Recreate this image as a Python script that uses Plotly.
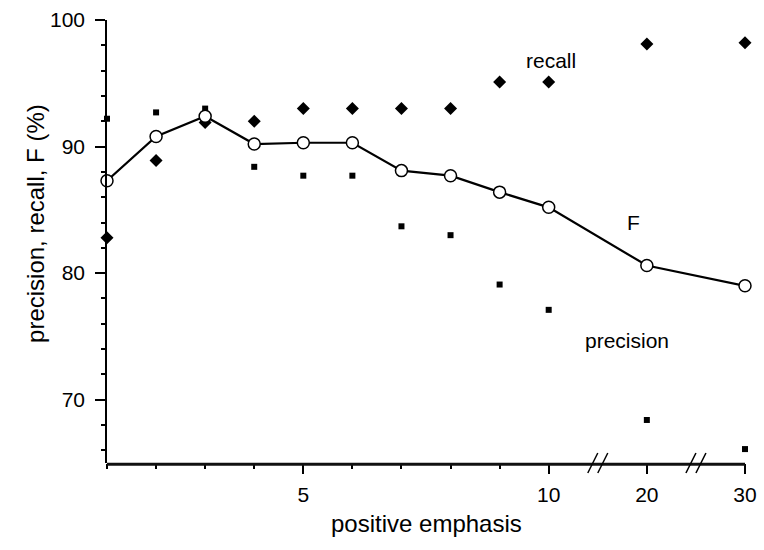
import plotly.graph_objects as go

# ---- data ----
emphasis = [1, 2, 3, 4, 5, 6, 7, 8, 9, 10, 20, 30]
precision = [92.2, 92.7, 93.0, 88.4, 87.7, 87.7, 83.7, 83.0, 79.1, 77.1, 68.4, 66.1]
recall = [82.8, 88.9, 91.9, 92.0, 93.0, 93.0, 93.0, 93.0, 95.1, 95.1, 98.1, 98.2]
f_score = [87.3, 90.8, 92.4, 90.2, 90.3, 90.3, 88.1, 87.7, 86.4, 85.2, 80.6, 79.0]

major_x = [5, 10, 20, 30]
minor_x = [1, 2, 3, 4, 6, 7, 8, 9]
major_y = [70, 80, 90, 100]
minor_y = [66, 68, 72, 74, 76, 78, 82, 84, 86, 88, 92, 94, 96, 98]
breaks_at = [15, 25]  # axis breaks between 10-20 and 20-30

X_MIN, X_MAX = 1, 30
Y_MIN, Y_MAX = 65, 100


def scale(v):
    """Broken x scale: linear up to 10, then 5 units per step."""
    return v if v <= 10 else 10 + (v - 10) / 5


def to_paper(v):
    return (scale(v) - scale(X_MIN)) / (scale(X_MAX) - scale(X_MIN))


xs = [scale(v) for v in emphasis]
FONT = "Liberation Sans, Arial, sans-serif"

fig = go.Figure()
fig.add_trace(go.Scatter(x=xs, y=precision, mode="markers", name="precision",
                         marker=dict(symbol="square", size=6, color="black"),
                         cliponaxis=False))
fig.add_trace(go.Scatter(x=xs, y=recall, mode="markers", name="recall",
                         marker=dict(symbol="diamond", size=10, color="black"),
                         cliponaxis=False))
fig.add_trace(go.Scatter(x=xs, y=f_score, mode="lines+markers", name="F",
                         line=dict(color="black", width=2.2),
                         marker=dict(symbol="circle", size=12, color="white",
                                     line=dict(color="black", width=1.5)),
                         cliponaxis=False))

# x axis line (paper shape) and break marks
LINE = dict(color="black", width=1.5)
bp = [to_paper(b) for b in breaks_at]
shapes = [dict(type="line", xref="paper", yref="paper", layer="above",
               x0=0, x1=1, y0=-0.003, y1=-0.003, line=dict(color="#111111", width=3))]
for b in bp:
    for off in (-5, 5):
        shapes.append(dict(type="line", xref="paper", yref="paper", layer="above",
                           xsizemode="pixel", ysizemode="pixel", xanchor=b, yanchor=0,
                           x0=off - 5, x1=off + 5, y0=-10, y1=10, line=LINE))

TXT = dict(size=21, family=FONT, color="black")
annotations = [
    dict(text="recall", x=10.04, y=96.84, xref="x", yref="y", showarrow=False, font=TXT),
    dict(text="F", x=11.73, y=84.0, xref="x", yref="y", showarrow=False, font=TXT),
    dict(text="precision", x=11.59, y=74.66, xref="x", yref="y", showarrow=False, font=TXT),
    dict(text="precision, recall, F (%)", textangle=-90, x=-0.111, y=0.54,
         xref="paper", yref="paper", showarrow=False, xanchor="center", yanchor="middle",
         font=dict(size=24, family=FONT, color="black")),
    dict(text="positive emphasis", x=0.5, y=-0.137, xref="paper", yref="paper",
         showarrow=False, xanchor="center", yanchor="middle",
         font=dict(size=24, family=FONT, color="black")),
]

fig.update_layout(
    width=764, height=550,
    margin=dict(l=107, r=19, t=20, b=87),
    paper_bgcolor="white", plot_bgcolor="white",
    showlegend=False,
    font=dict(family=FONT, color="black", size=21),
    shapes=shapes, annotations=annotations,
    xaxis=dict(range=[scale(X_MIN), scale(X_MAX)], showgrid=False, zeroline=False,
               showline=False, automargin=False,
               tickmode="array", tickvals=[scale(v) for v in major_x],
               ticktext=[str(v) for v in major_x],
               ticks="outside", ticklen=10, tickwidth=1.5, tickcolor="black",
               ticklabelstandoff=3,
               minor=dict(tickmode="array", tickvals=[scale(v) for v in minor_x],
                          ticks="outside", ticklen=5, tickwidth=1.5, tickcolor="black",
                          showgrid=False)),
    yaxis=dict(range=[Y_MIN, Y_MAX], showgrid=False, zeroline=False, showline=True,
               automargin=False, linecolor="black", linewidth=1.5,
               tickmode="array", tickvals=major_y, ticktext=[str(v) for v in major_y],
               ticks="outside", ticklen=10, tickwidth=1.5, tickcolor="black",
               ticklabelstandoff=6,
               minor=dict(tickmode="array", tickvals=minor_y,
                          ticks="outside", ticklen=4, tickwidth=1.5, tickcolor="black",
                          showgrid=False)),
)

fig.write_html("out.html")
